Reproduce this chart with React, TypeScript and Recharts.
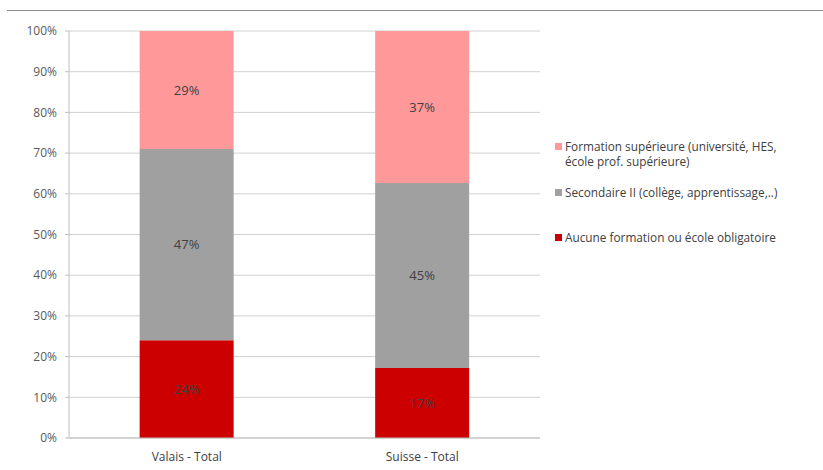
import React from 'react';
import { BarChart, Bar, XAxis, YAxis, CartesianGrid, LabelList } from 'recharts';

const categories = ['Valais - Total', 'Suisse - Total'];
const aucune = [24, 17];
const secondaire = [47, 45];
const superieure = [29, 37];
const yTicks = [0, 0.1, 0.2, 0.3, 0.4, 0.5, 0.6, 0.7, 0.8, 0.9, 1];

const series = [
  { key: 'aucune', name: 'Aucune formation ou école obligatoire', color: '#cc0000' },
  { key: 'secondaire', name: 'Secondaire II (collège, apprentissage,..)', color: '#a0a0a0' },
  { key: 'superieure', name: 'Formation supérieure (université, HES, école prof. supérieure)', color: '#ff9999' },
];

const data = categories.map((c, i) => ({
  name: c,
  aucune: aucune[i],
  secondaire: secondaire[i],
  superieure: superieure[i],
}));

const font = '"Open Sans", sans-serif';

// legend drawn outside the chart so it doesn't eat plot space
function LegendBox() {
  const items = [...series].reverse();
  return (
    <div style={{ position: 'absolute', left: 555, top: 139, fontFamily: font, fontSize: 11.8, color: '#404040', width: 255 }}>
      {items.map((s, i) => (
        <div key={s.key} style={{ display: 'flex', alignItems: 'flex-start', height: i === 0 ? 46 : 45, lineHeight: '15px' }}>
          <span style={{ display: 'inline-block', width: 7, height: 7, background: s.color, marginTop: 4, marginRight: 3, flexShrink: 0 }} />
          <span style={{ width: 240 }}>{s.name}</span>
        </div>
      ))}
    </div>
  );
}

export default function App() {
  return (
    <div style={{ position: 'absolute', left: 0, top: 0, width: 823, height: 470, background: '#fff' }}>
      <div style={{ position: 'absolute', left: 7, top: 10, width: 816, height: 0, borderTop: '1px solid #8c8c8c' }} />
      <BarChart
        width={823}
        height={470}
        data={data}
        stackOffset="expand"
        barCategoryGap="30%"
        margin={{ top: 31, right: 283, left: 0, bottom: 2 }}
      >
        <CartesianGrid vertical={false} stroke="#d0d0d0" />
        <XAxis
          dataKey="name"
          height={30}
          tickLine={false}
          stroke="#bfbfbf"
          tick={{ fill: '#404040', fontSize: 12, fontFamily: font }}
          tickMargin={8}
        />
        <YAxis
          width={69}
          domain={[0, 1]}
          ticks={yTicks}
          interval={0}
          tickFormatter={(v: number) => `${Math.round(v * 100)}%`}
          stroke="#bfbfbf"
          tickSize={4}
          tickMargin={8}
          tick={{ fill: '#595959', fontSize: 12, fontFamily: font }}
        />
        {series.map((s) => (
          <Bar key={s.key} dataKey={s.key} name={s.name} stackId="a" fill={s.color} isAnimationActive={false}>
            <LabelList
              dataKey={s.key}
              position="center"
              formatter={(v: any) => `${v}%`}
              style={{ fill: '#404040', fontSize: 13, fontFamily: font }}
            />
          </Bar>
        ))}
      </BarChart>
      <LegendBox />
    </div>
  );
}
